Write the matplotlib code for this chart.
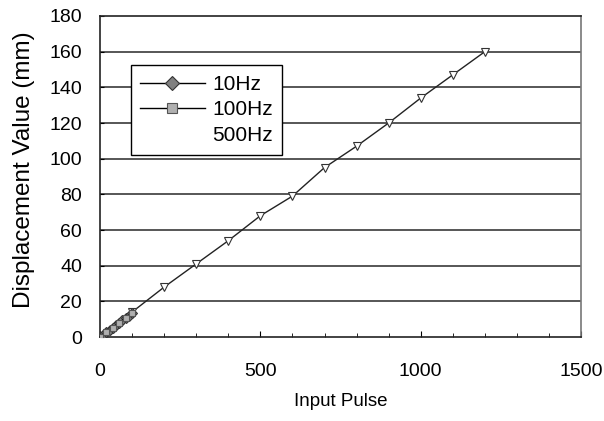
import matplotlib.pyplot as plt
from matplotlib.lines import Line2D
from matplotlib.ticker import MultipleLocator
import matplotlib as mpl

mpl.rcParams['font.family'] = ['Liberation Sans', 'DejaVu Sans']

# data
pulse_10hz = [0, 10, 20, 30, 40, 50, 60, 70, 80, 90, 100]
disp_10hz = [0, 1.3, 2.7, 4.0, 5.3, 6.7, 8.0, 9.3, 10.7, 12.0, 13.3]
pulse_100hz = [0, 20, 40, 60, 80, 100]
disp_100hz = [0, 2.7, 5.3, 8.0, 10.7, 13.3]
pulse_500hz = [0, 100, 200, 300, 400, 500, 600, 700, 800, 900, 1000, 1100, 1200]
disp_500hz = [0, 14, 28, 41, 54, 68, 79, 95, 107, 120, 134, 147, 160]

fig = plt.figure(figsize=(6.04, 4.21), dpi=100)
ax = fig.add_axes([0.1656, 0.1995, 0.7964, 0.7625])

for y in range(20, 180, 20):
    ax.axhline(y, color='#3a3a3a', lw=1.2, zorder=1)

ax.plot(pulse_500hz, disp_500hz, color='#222222', lw=1.0, marker='v', ms=6,
        mfc='white', mec='#333333', mew=0.8, zorder=3)
ln10, = ax.plot(pulse_10hz, disp_10hz, color='black', lw=1.0, marker='D', ms=5,
                mfc='#808080', mec='#333333', mew=0.8, zorder=4)
ln100, = ax.plot(pulse_100hz, disp_100hz, color='black', lw=1.0, marker='s', ms=5,
                 mfc='#b0b0b0', mec='#555555', mew=0.8, zorder=4)

blank = Line2D([], [], color='none')
leg = ax.legend([ln10, ln100, blank], ['10Hz', '100Hz', '500Hz'],
                loc='upper left', bbox_to_anchor=(0.064, 0.846), fontsize=15,
                handlelength=3.1, handletextpad=0.35, borderpad=0.45,
                labelspacing=0.32, fancybox=False, framealpha=1, markerscale=1.5,
                edgecolor='black', borderaxespad=0)
leg.get_frame().set_linewidth(1.0)

ax.set_xlim(0, 1500)
ax.set_ylim(0, 180)
ax.set_xticks([0, 500, 1000, 1500])
ax.xaxis.set_minor_locator(MultipleLocator(100))
ax.set_yticks(range(0, 181, 20))
ax.tick_params(axis='x', which='major', direction='in', length=4, pad=19, labelsize=14)
ax.tick_params(axis='x', which='minor', direction='in', length=3)
ax.tick_params(axis='y', direction='in', length=3, pad=13, labelsize=14)

for side in ['left', 'bottom', 'top']:
    ax.spines[side].set_color('#222222')
ax.spines['right'].set_color('#777777')
for spine in ax.spines.values():
    spine.set_linewidth(1.2)

ax.set_xlabel('Input Pulse', fontsize=13.5, labelpad=9)
ax.set_ylabel('Displacement Value (mm)', fontsize=17.5)
ax.yaxis.set_label_coords(-0.135, 0.52)

plt.savefig('out.png', dpi=100)
plt.close()
